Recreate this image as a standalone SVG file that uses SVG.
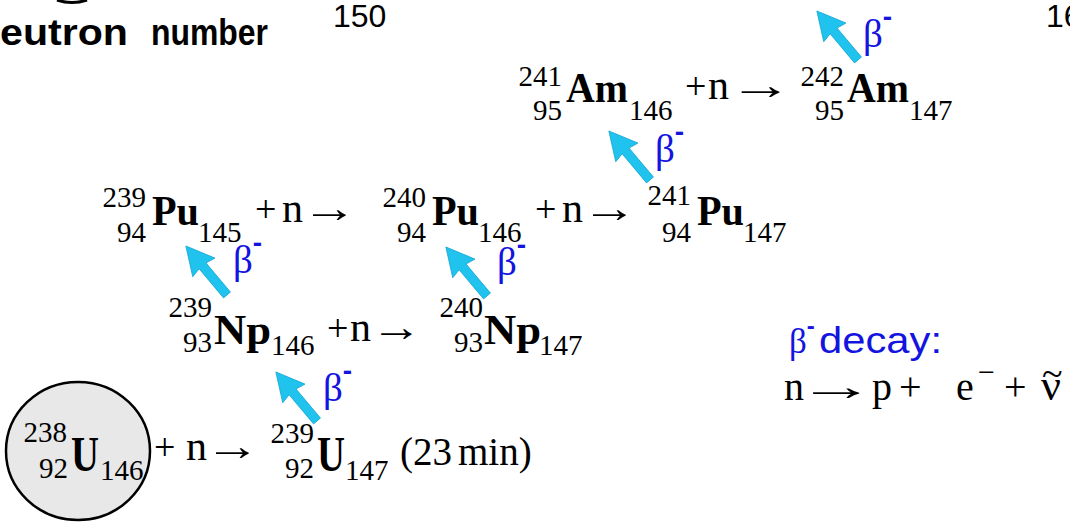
<svg xmlns="http://www.w3.org/2000/svg" width="1070" height="523" viewBox="0 0 1070 523">
<style>
.sup{font-family:"Liberation Serif",serif;font-size:29px;fill:#000}
.sym{font-family:"Liberation Serif",serif;font-size:43px;font-weight:bold;fill:#000}
.op{font-family:"Liberation Serif",serif;font-size:42px;fill:#000}
.pl{font-family:"Liberation Serif",serif;font-size:38px;fill:#000}
.beta{font-family:"Liberation Serif",serif;font-size:39px;fill:#1414E0}
.bm{font-family:"Liberation Sans",sans-serif;font-size:28px;font-weight:bold;fill:#1414E0}
.ax{font-family:"Liberation Sans",sans-serif;font-size:32px;fill:#000}
.e{text-anchor:end}
</style>
<defs>
<path id="arr" d="M0,-4.5 L38,-4.5 L36,-14.5 L64,0 L36,14.5 L38,4.5 L0,4.5 Z" fill="#1FC3EE" stroke="#18A8D4" stroke-width="0.8"/>
</defs>
<rect width="1070" height="523" fill="#fff"/>
<g id="axis">
<path d="M57,0 Q72,5 87,0" fill="none" stroke="#000" stroke-width="3"/>
<text class="ax" x="0" y="45" style="font-size:36px;font-weight:bold" textLength="128" lengthAdjust="spacingAndGlyphs">eutron</text>
<text class="ax" x="151" y="45" style="font-size:36px;font-weight:bold" textLength="117" lengthAdjust="spacingAndGlyphs">number</text>
<text class="ax" x="333" y="27">150</text>
<text class="ax" x="1046" y="27">16</text>
</g>
<g id="Am241">
<text class="sup e" x="562" y="86">241</text>
<text class="sup e" x="562" y="120">95</text>
<text class="sym" x="566" y="102" textLength="62" lengthAdjust="spacingAndGlyphs">Am</text>
<text class="sup" x="629" y="120">146</text>
<text class="pl" x="685" y="99">+</text><text class="op" x="708" y="99">n</text><text class="op" transform="translate(729,99) scale(1.52,1)">→</text>
</g>
<g id="Am242">
<text class="sup e" x="844" y="86">242</text>
<text class="sup e" x="844" y="120">95</text>
<text class="sym" x="847" y="102" textLength="62" lengthAdjust="spacingAndGlyphs">Am</text>
<text class="sup" x="909" y="120">147</text>
</g>
<g id="Pu239">
<text class="sup e" x="146" y="207">239</text>
<text class="sup e" x="146" y="242">94</text>
<text class="sym" x="152" y="225" textLength="47" lengthAdjust="spacingAndGlyphs">Pu</text>
<text class="sup" x="198" y="242">145</text>
<text class="pl" x="255" y="222">+</text><text class="op" x="282" y="222">n</text><text class="op" transform="translate(302,222) scale(1.32,1)">→</text>
</g>
<g id="Pu240">
<text class="sup e" x="426" y="207">240</text>
<text class="sup e" x="426" y="242">94</text>
<text class="sym" x="432" y="225" textLength="47" lengthAdjust="spacingAndGlyphs">Pu</text>
<text class="sup" x="478" y="242">146</text>
<text class="pl" x="535" y="222">+</text><text class="op" x="562" y="222">n</text><text class="op" transform="translate(582,222) scale(1.32,1)">→</text>
</g>
<g id="Pu241">
<text class="sup e" x="691" y="205">241</text>
<text class="sup e" x="691" y="242">94</text>
<text class="sym" x="697" y="225" textLength="47" lengthAdjust="spacingAndGlyphs">Pu</text>
<text class="sup" x="743" y="242">147</text>
</g>
<g id="Np239">
<text class="sup e" x="212" y="317">239</text>
<text class="sup e" x="212" y="352">93</text>
<text class="sym" x="214" y="344" textLength="57" lengthAdjust="spacingAndGlyphs">Np</text>
<text class="sup" x="271" y="355">146</text>
<text class="pl" x="327" y="341">+</text><text class="op" x="350" y="341">n</text><text class="op" transform="translate(371,341) scale(1.22,1)">→</text>
</g>
<g id="Np240">
<text class="sup e" x="483" y="317">240</text>
<text class="sup e" x="483" y="352">93</text>
<text class="sym" x="484" y="344" textLength="57" lengthAdjust="spacingAndGlyphs">Np</text>
<text class="sup" x="539" y="355">147</text>
</g>
<g id="U238">
<ellipse cx="78" cy="451" rx="72" ry="69" fill="#e8e8e8" stroke="#000" stroke-width="2.5"/>
<text class="sup e" x="67" y="442">238</text>
<text class="sup e" x="68" y="478">92</text>
<text class="sym" x="71" y="471" style="font-size:50px" textLength="28" lengthAdjust="spacingAndGlyphs">U</text>
<text class="sup" x="100" y="480">146</text>
<text class="pl" x="154" y="460">+</text><text class="op" x="186" y="460">n</text><text class="op" transform="translate(205,460) scale(1.32,1)">→</text>
</g>
<g id="U239">
<text class="sup e" x="314" y="443">239</text>
<text class="sup e" x="314" y="478">92</text>
<text class="sym" x="317" y="471" style="font-size:50px" textLength="28" lengthAdjust="spacingAndGlyphs">U</text>
<text class="sup" x="345" y="480">147</text>
<text class="op" x="400" y="465" style="font-size:39px">(23<tspan dx="6">min</tspan>)</text>
</g>
<g id="connectors">
<use href="#arr" transform="translate(858,60) rotate(-130)"/>
<use href="#arr" transform="translate(650,180) rotate(-130)"/>
<use href="#arr" transform="translate(227,295) rotate(-130)"/>
<use href="#arr" transform="translate(487,296) rotate(-130)"/>
<use href="#arr" transform="translate(317,421) rotate(-130)"/>
</g>
<g id="beta-labels">
<text class="beta" x="863" y="47">β<tspan class="bm" dy="-21">-</tspan></text>
<text class="beta" x="655" y="162">β<tspan class="bm" dy="-21">-</tspan></text>
<text class="beta" x="233" y="273">β<tspan class="bm" dy="-21">-</tspan></text>
<text class="beta" x="497" y="275">β<tspan class="bm" dy="-21">-</tspan></text>
<text class="beta" x="323" y="401">β<tspan class="bm" dy="-21">-</tspan></text>
</g>
<g id="legend">
<text x="789" y="353" font-family="Liberation Serif,serif" font-size="35" fill="#1414E0">β<tspan font-family="Liberation Sans,sans-serif" font-size="24" font-weight="bold" dy="-19">-</tspan><tspan font-family="Liberation Sans,sans-serif" font-size="37" dy="19" x="819" textLength="123" lengthAdjust="spacingAndGlyphs">decay:</tspan></text>
<text font-family="Liberation Serif,serif" font-size="40" fill="#000" y="400"><tspan x="784">n</tspan><tspan x="872">p</tspan><tspan x="899">+</tspan><tspan x="956">e</tspan><tspan x="978" dy="-18" font-size="30">−</tspan><tspan x="1004" dy="18">+</tspan><tspan x="1041" font-size="44">ν</tspan></text>
<text font-family="Liberation Serif,serif" font-size="40" transform="translate(797,400) scale(1.95,1)">→</text>
<text font-family="Liberation Serif,serif" font-size="38" x="1042" y="386">~</text>
</g>
</svg>
